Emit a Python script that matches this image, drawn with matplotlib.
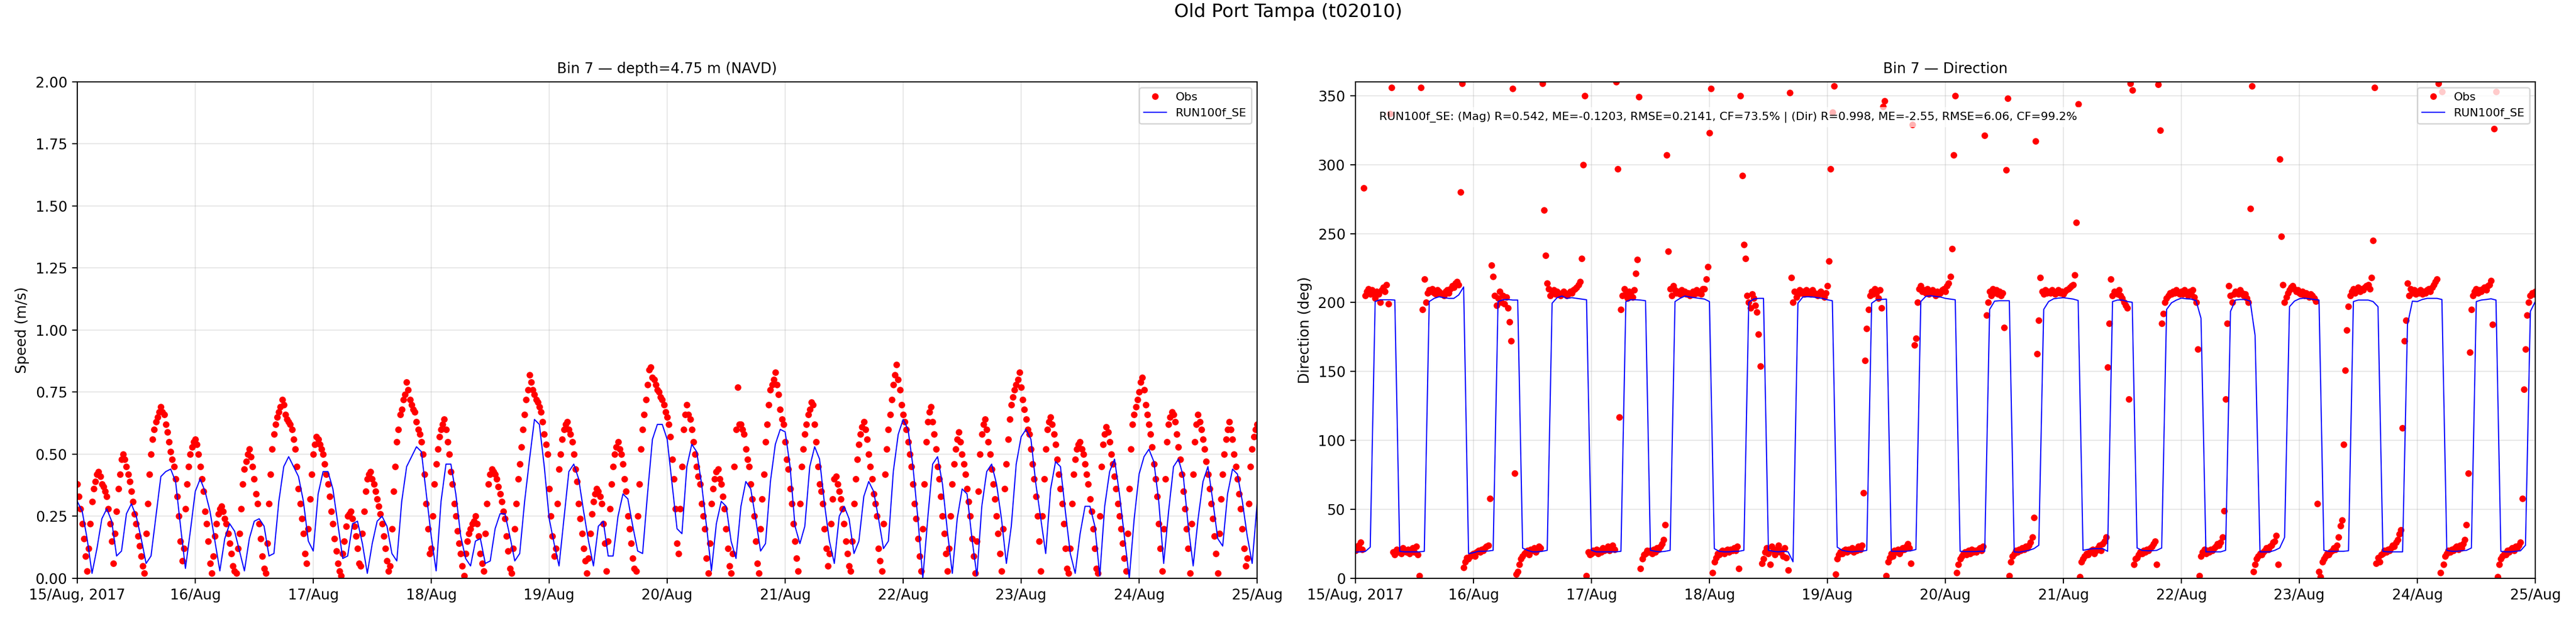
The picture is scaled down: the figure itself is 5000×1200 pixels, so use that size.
import pandas as pd
import matplotlib
matplotlib.use("Agg")
import matplotlib.pyplot as plt

# ---------------- data ----------------
start_time = "2017-08-15 00:00"
end_time = "2017-08-25 00:00"

# observed speed (m/s), every 20 minutes
obs_speed = [
    0.38, 0.33, 0.28, 0.22, 0.16, 0.09, 0.03, 0.12, 0.22, 0.31, 0.36, 0.39,
    0.42, 0.43, 0.41, 0.38, 0.37, 0.35, 0.33, 0.28, 0.22, 0.15, 0.06, 0.18,
    0.27, 0.36, 0.42, 0.48, 0.50, 0.48, 0.45, 0.42, 0.39, 0.35, 0.31, 0.26,
    0.22, 0.17, 0.13, 0.09, 0.05, 0.02, 0.18, 0.30, 0.42, 0.50, 0.56, 0.60,
    0.63, 0.65, 0.67, 0.69, 0.67, 0.66, 0.62, 0.59, 0.55, 0.51, 0.48, 0.45,
    0.40, 0.33, 0.25, 0.15, 0.07, 0.12, 0.28, 0.38, 0.45, 0.50, 0.53, 0.55,
    0.56, 0.54, 0.50, 0.45, 0.40, 0.35, 0.27, 0.22, 0.15, 0.06, 0.02, 0.09,
    0.17, 0.22, 0.26, 0.28, 0.29, 0.27, 0.24, 0.22, 0.18, 0.14, 0.10, 0.05,
    0.03, 0.02, 0.12, 0.18, 0.28, 0.38, 0.44, 0.47, 0.50, 0.52, 0.49, 0.45,
    0.40, 0.34, 0.30, 0.22, 0.16, 0.09, 0.04, 0.02, 0.14, 0.30, 0.42, 0.52,
    0.58, 0.62, 0.65, 0.67, 0.69, 0.72, 0.70, 0.66, 0.64, 0.63, 0.62, 0.60,
    0.56, 0.52, 0.45, 0.36, 0.30, 0.24, 0.18, 0.10, 0.06, 0.20, 0.32, 0.42,
    0.50, 0.54, 0.57, 0.56, 0.54, 0.52, 0.50, 0.46, 0.42, 0.38, 0.33, 0.27,
    0.22, 0.16, 0.11, 0.06, 0.03, 0.01, 0.10, 0.15, 0.21, 0.25, 0.26, 0.27,
    0.24, 0.21, 0.17, 0.12, 0.06, 0.05, 0.18, 0.27, 0.35, 0.40, 0.42, 0.43,
    0.40, 0.38, 0.35, 0.32, 0.29, 0.26, 0.22, 0.17, 0.12, 0.07, 0.03, 0.05,
    0.20, 0.35, 0.45, 0.55, 0.60, 0.66, 0.68, 0.72, 0.74, 0.79, 0.76, 0.72,
    0.70, 0.68, 0.67, 0.63, 0.60, 0.58, 0.55, 0.50, 0.42, 0.30, 0.20, 0.10,
    0.12, 0.25, 0.38, 0.46, 0.52, 0.57, 0.60, 0.62, 0.64, 0.60, 0.55, 0.50,
    0.43, 0.38, 0.30, 0.25, 0.19, 0.14, 0.10, 0.05, 0.01, 0.10, 0.15, 0.18,
    0.20, 0.22, 0.23, 0.25, 0.22, 0.17, 0.10, 0.06, 0.03, 0.18, 0.30, 0.38,
    0.42, 0.44, 0.43, 0.42, 0.40, 0.37, 0.34, 0.31, 0.27, 0.24, 0.17, 0.11,
    0.04, 0.02, 0.12, 0.20, 0.30, 0.40, 0.46, 0.53, 0.60, 0.66, 0.72, 0.76,
    0.82, 0.79, 0.76, 0.74, 0.72, 0.71, 0.69, 0.67, 0.63, 0.58, 0.54, 0.50,
    0.36, 0.25, 0.17, 0.09, 0.12, 0.30, 0.44, 0.50, 0.56, 0.60, 0.62, 0.63,
    0.60, 0.58, 0.55, 0.50, 0.44, 0.39, 0.30, 0.24, 0.18, 0.12, 0.07, 0.02,
    0.08, 0.18, 0.26, 0.31, 0.34, 0.36, 0.35, 0.33, 0.30, 0.22, 0.14, 0.03,
    0.15, 0.28, 0.38, 0.45, 0.50, 0.53, 0.55, 0.52, 0.50, 0.46, 0.40, 0.35,
    0.25, 0.20, 0.14, 0.08, 0.04, 0.03, 0.25, 0.38, 0.52, 0.60, 0.66, 0.72,
    0.78, 0.84, 0.85, 0.81, 0.80, 0.78, 0.76, 0.75, 0.73, 0.72, 0.70, 0.67,
    0.65, 0.62, 0.57, 0.48, 0.40, 0.28, 0.14, 0.10, 0.28, 0.45, 0.60, 0.66,
    0.70, 0.66, 0.64, 0.60, 0.55, 0.50, 0.45, 0.41, 0.38, 0.30, 0.25, 0.20,
    0.08, 0.02, 0.14, 0.30, 0.36, 0.40, 0.43, 0.44, 0.40, 0.38, 0.33, 0.28,
    0.20, 0.12, 0.05, 0.02, 0.10, 0.45, 0.60, 0.77, 0.62, 0.62, 0.60, 0.58,
    0.52, 0.48, 0.45, 0.38, 0.32, 0.25, 0.15, 0.06, 0.02, 0.20, 0.32, 0.42,
    0.55, 0.62, 0.70, 0.76, 0.78, 0.80, 0.83, 0.78, 0.74, 0.68, 0.64, 0.62,
    0.55, 0.48, 0.44, 0.36, 0.30, 0.22, 0.15, 0.08, 0.03, 0.30, 0.45, 0.52,
    0.58, 0.62, 0.66, 0.68, 0.71, 0.70, 0.62, 0.55, 0.45, 0.38, 0.35, 0.30,
    0.20, 0.12, 0.05, 0.10, 0.22, 0.32, 0.40, 0.41, 0.38, 0.35, 0.32, 0.28,
    0.22, 0.15, 0.10, 0.05, 0.03, 0.15, 0.30, 0.40, 0.48, 0.54, 0.58, 0.61,
    0.63, 0.60, 0.56, 0.50, 0.45, 0.40, 0.34, 0.30, 0.25, 0.12, 0.07, 0.03,
    0.22, 0.42, 0.52, 0.60, 0.66, 0.72, 0.78, 0.82, 0.86, 0.80, 0.76, 0.70,
    0.66, 0.63, 0.60, 0.55, 0.50, 0.45, 0.38, 0.30, 0.24, 0.16, 0.09, 0.03,
    0.20, 0.38, 0.55, 0.63, 0.67, 0.69, 0.63, 0.58, 0.52, 0.45, 0.40, 0.33,
    0.25, 0.18, 0.10, 0.03, 0.12, 0.25, 0.38, 0.46, 0.52, 0.56, 0.59, 0.55,
    0.50, 0.46, 0.42, 0.36, 0.31, 0.25, 0.16, 0.09, 0.02, 0.15, 0.35, 0.50,
    0.58, 0.62, 0.64, 0.60, 0.55, 0.50, 0.44, 0.38, 0.32, 0.25, 0.18, 0.10,
    0.03, 0.20, 0.36, 0.46, 0.56, 0.64, 0.70, 0.73, 0.76, 0.78, 0.80, 0.83,
    0.77, 0.72, 0.68, 0.64, 0.60, 0.58, 0.52, 0.46, 0.40, 0.33, 0.25, 0.15,
    0.03, 0.25, 0.40, 0.52, 0.60, 0.63, 0.65, 0.62, 0.58, 0.54, 0.48, 0.42,
    0.36, 0.30, 0.22, 0.12, 0.04, 0.02, 0.12, 0.30, 0.42, 0.48, 0.52, 0.54,
    0.55, 0.52, 0.50, 0.46, 0.42, 0.38, 0.32, 0.27, 0.20, 0.12, 0.04, 0.02,
    0.25, 0.45, 0.54, 0.58, 0.61, 0.59, 0.55, 0.50, 0.46, 0.41, 0.36, 0.30,
    0.25, 0.20, 0.14, 0.08, 0.03, 0.18, 0.36, 0.52, 0.62, 0.66, 0.69, 0.72,
    0.75, 0.79, 0.81, 0.76, 0.70, 0.66, 0.62, 0.58, 0.53, 0.46, 0.40, 0.33,
    0.22, 0.12, 0.03, 0.20, 0.40, 0.55, 0.62, 0.65, 0.67, 0.66, 0.63, 0.58,
    0.53, 0.48, 0.42, 0.35, 0.28, 0.20, 0.12, 0.02, 0.22, 0.42, 0.55, 0.62,
    0.66, 0.63, 0.60, 0.56, 0.52, 0.47, 0.42, 0.36, 0.30, 0.24, 0.17, 0.10,
    0.02, 0.18, 0.32, 0.42, 0.50, 0.56, 0.60, 0.63, 0.60, 0.56, 0.50, 0.45,
    0.40, 0.34, 0.28, 0.20, 0.12, 0.05, 0.08, 0.30, 0.45, 0.52, 0.57, 0.60,
    0.62,
]

# observed direction (deg), every 20 minutes
obs_dir = [
    20, 22, 24, 26, 21, 283, 205, 208, 210, 206, 209, 207,
    203, 208, 206, 200, 209, 211, 208, 213, 199, 337, 356, 19,
    17, 21, 19, 20, 18, 22, 20, 19, 21, 18, 20, 22,
    19, 23, 17, 2, 356, 195, 217, 200, 207, 209, 208, 210,
    207, 206, 209, 208, 207, 206, 205, 208, 209, 207, 210, 212,
    211, 214, 215, 213, 280, 359, 8, 12, 15, 14, 16, 17,
    18, 16, 19, 20, 19, 21, 20, 22, 23, 24, 58, 227,
    219, 205, 198, 203, 208, 200, 205, 199, 204, 196, 186, 172,
    355, 76, 3, 5, 10, 14, 16, 18, 19, 20, 17, 21,
    20, 22, 19, 21, 23, 22, 359, 267, 234, 214, 210, 205,
    207, 209, 206, 208, 207, 205, 206, 208, 207, 205, 206, 208,
    207, 209, 210, 211, 213, 215, 232, 300, 350, 2, 19, 17,
    18, 20, 19, 21, 18, 20, 19, 22, 20, 21, 23, 20,
    22, 24, 21, 360, 297, 117, 195, 205, 210, 207, 203, 208,
    206, 204, 209, 221, 231, 349, 7, 14, 17, 18, 20, 19,
    20, 18, 21, 19, 22, 21, 23, 25, 28, 39, 307, 237,
    210, 205, 212, 209, 207, 208, 206, 209, 207, 208, 206, 207,
    205, 207, 208, 206, 209, 207, 208, 206, 210, 210, 217, 226,
    323, 355, 4, 12, 15, 18, 17, 19, 20, 18, 20, 21,
    19, 21, 20, 22, 20, 23, 7, 350, 292, 242, 232, 205,
    200, 196, 206, 203, 198, 193, 177, 154, 11, 14, 19, 22,
    18, 10, 23, 20, 17, 21, 24, 19, 20, 16, 22, 15,
    6, 352, 218, 200, 208, 204, 206, 209, 207, 208, 206, 209,
    207, 208, 206, 209, 207, 206, 205, 207, 208, 206, 204, 207,
    212, 230, 297, 338, 357, 3, 14, 17, 19, 18, 20, 21,
    19, 21, 20, 22, 19, 21, 20, 23, 21, 24, 62, 158,
    181, 195, 205, 208, 206, 210, 207, 203, 209, 196, 342, 346,
    2, 12, 15, 18, 16, 20, 19, 21, 18, 20, 22, 21,
    23, 25, 22, 11, 329, 169, 174, 200, 210, 212, 208, 209,
    207, 210, 206, 208, 209, 207, 205, 208, 206, 207, 209, 210,
    208, 212, 214, 219, 239, 307, 350, 4, 10, 14, 16, 18,
    19, 17, 20, 18, 21, 19, 20, 19, 21, 22, 20, 23,
    321, 191, 200, 208, 205, 210, 207, 209, 206, 208, 205, 207,
    182, 296, 348, 2, 12, 16, 18, 20, 19, 21, 20, 22,
    21, 23, 22, 24, 26, 30, 44, 317, 163, 187, 218, 208,
    206, 209, 207, 208, 207, 209, 208, 206, 207, 209, 207, 208,
    206, 208, 209, 210, 211, 212, 213, 220, 258, 344, 1, 12,
    14, 16, 18, 17, 19, 20, 21, 18, 20, 22, 24, 20,
    25, 27, 30, 153, 185, 217, 205, 208, 207, 206, 209, 205,
    203, 200, 198, 196, 130, 359, 354, 10, 14, 15, 17, 19,
    18, 20, 19, 21, 20, 22, 23, 25, 27, 10, 358, 325,
    185, 192, 200, 203, 205, 207, 206, 208, 207, 209, 207, 206,
    208, 206, 209, 207, 205, 208, 206, 209, 204, 200, 166, 2,
    16, 19, 21, 18, 20, 19, 21, 20, 22, 23, 25, 24,
    26, 30, 49, 130, 185, 212, 205, 200, 206, 208, 207, 206,
    209, 207, 205, 206, 203, 200, 268, 357, 5, 10, 14, 16,
    18, 17, 19, 20, 22, 21, 23, 24, 26, 27, 31, 10,
    304, 248, 213, 200, 204, 207, 209, 211, 212, 210, 208, 209,
    207, 206, 208, 205, 207, 206, 204, 206, 205, 203, 201, 54,
    5, 1, 12, 14, 16, 18, 17, 19, 20, 22, 21, 24,
    30, 38, 42, 97, 151, 180, 197, 205, 208, 210, 207, 209,
    211, 208, 210, 209, 211, 212, 213, 210, 218, 245, 356, 11,
    15, 12, 17, 18, 20, 19, 21, 20, 22, 24, 23, 26,
    28, 32, 35, 109, 172, 187, 214, 205, 210, 207, 209, 206,
    208, 207, 209, 206, 208, 207, 209, 210, 208, 211, 213, 215,
    217, 359, 4, 353, 10, 16, 18, 20, 19, 21, 20, 22,
    23, 21, 24, 22, 25, 28, 39, 76, 164, 195, 205, 208,
    210, 207, 209, 208, 210, 211, 209, 212, 213, 216, 184, 326,
    353, 1, 10, 14, 16, 18, 17, 20, 19, 21, 22, 20,
    23, 22, 24, 26, 58, 137, 166, 191, 200, 205, 207, 206,
    208,
]

# model RUN100f_SE speed (m/s), hourly
model_speed = [
    0.31, 0.27, 0.16, 0.02, 0.12, 0.24, 0.28, 0.23, 0.09, 0.11,
    0.26, 0.30, 0.25, 0.16, 0.06, 0.09, 0.25, 0.41, 0.43, 0.44,
    0.39, 0.21, 0.04, 0.19, 0.35, 0.40, 0.35, 0.27, 0.15, 0.03,
    0.16, 0.22, 0.19, 0.11, 0.03, 0.16, 0.23, 0.24, 0.21, 0.09,
    0.10, 0.31, 0.45, 0.49, 0.45, 0.41, 0.31, 0.15, 0.11, 0.34,
    0.43, 0.43, 0.36, 0.22, 0.08, 0.09, 0.22, 0.23, 0.14, 0.02,
    0.14, 0.23, 0.25, 0.21, 0.10, 0.07, 0.31, 0.45, 0.49, 0.53,
    0.51, 0.34, 0.17, 0.03, 0.31, 0.46, 0.46, 0.34, 0.17, 0.08,
    0.05, 0.15, 0.16, 0.06, 0.07, 0.20, 0.26, 0.26, 0.17, 0.07,
    0.10, 0.31, 0.48, 0.64, 0.62, 0.45, 0.24, 0.14, 0.05, 0.24,
    0.43, 0.46, 0.40, 0.27, 0.15, 0.05, 0.21, 0.23, 0.09, 0.09,
    0.25, 0.34, 0.32, 0.21, 0.11, 0.10, 0.34, 0.56, 0.62, 0.62,
    0.56, 0.38, 0.20, 0.18, 0.45, 0.54, 0.51, 0.38, 0.21, 0.03,
    0.22, 0.31, 0.29, 0.15, 0.08, 0.29, 0.39, 0.36, 0.24, 0.11,
    0.14, 0.39, 0.54, 0.60, 0.59, 0.45, 0.21, 0.14, 0.21, 0.45,
    0.53, 0.48, 0.30, 0.15, 0.06, 0.25, 0.29, 0.24, 0.10, 0.15,
    0.33, 0.39, 0.35, 0.24, 0.12, 0.15, 0.43, 0.58, 0.64, 0.60,
    0.45, 0.24, 0.00, 0.24, 0.46, 0.49, 0.38, 0.19, 0.02, 0.24,
    0.36, 0.34, 0.16, 0.01, 0.29, 0.43, 0.46, 0.38, 0.24, 0.06,
    0.21, 0.46, 0.57, 0.60, 0.56, 0.38, 0.24, 0.10, 0.36, 0.47,
    0.45, 0.27, 0.10, 0.02, 0.18, 0.29, 0.29, 0.21, 0.01, 0.29,
    0.43, 0.48, 0.34, 0.17, 0.00, 0.24, 0.42, 0.49, 0.52, 0.47,
    0.31, 0.06, 0.27, 0.45, 0.48, 0.41, 0.21, 0.05, 0.24, 0.39,
    0.45, 0.31, 0.16, 0.13, 0.34, 0.44, 0.42, 0.31, 0.17, 0.06,
    0.30,
]

# model RUN100f_SE direction (deg), hourly
model_dir = [
    19.0, 19.2, 19.5, 22.6, 200.7, 202.0, 202.0, 202.0, 201.8, 19.6,
    19.2, 19.2, 19.2, 19.2, 19.6, 200.7, 203.0, 204.2, 203.5, 203.0,
    203.0, 205.5, 211.3, 17.9, 18.6, 19.6, 19.6, 19.8, 20.3, 200.7,
    202.0, 202.2, 201.8, 201.8, 21.9, 20.3, 19.2, 19.2, 19.6, 20.3,
    199.5, 203.5, 204.7, 203.0, 203.5, 203.0, 202.5, 202.0, 20.3, 19.2,
    19.2, 19.2, 19.2, 19.2, 19.6, 200.7, 202.0, 202.0, 201.8, 201.3,
    20.3, 19.6, 19.2, 19.6, 20.3, 200.7, 203.0, 204.7, 204.0, 203.5,
    203.0, 202.5, 200.7, 21.5, 19.6, 19.2, 19.2, 19.6, 19.6, 20.3,
    200.2, 202.5, 203.0, 203.0, 20.3, 19.6, 19.2, 19.6, 19.2, 12.0,
    199.5, 204.0, 204.2, 204.0, 203.5, 203.0, 202.0, 201.3, 22.6, 20.3,
    19.6, 19.2, 19.6, 19.6, 20.3, 199.5, 202.0, 202.2, 202.5, 19.6,
    19.6, 19.6, 19.6, 20.0, 20.9, 200.7, 204.4, 204.9, 204.4, 204.0,
    203.0, 202.5, 202.0, 19.6, 19.4, 19.4, 19.4, 19.6, 19.6, 195.0,
    201.0, 201.3, 201.3, 201.3, 19.2, 18.9, 19.6, 20.3, 21.5, 24.0,
    195.0, 200.7, 202.7, 203.2, 203.5, 203.0, 202.5, 201.5, 20.3, 21.0,
    21.5, 21.5, 21.5, 19.6, 200.7, 201.8, 201.8, 200.7, 200.2, 22.0,
    20.3, 20.0, 20.0, 20.3, 22.0, 195.0, 199.8, 201.8, 203.2, 202.7,
    202.5, 201.3, 188.5, 19.2, 19.2, 19.2, 19.2, 20.3, 193.6, 201.8,
    202.2, 202.2, 201.0, 176.0, 19.2, 19.2, 19.2, 20.3, 22.0, 29.7,
    197.0, 201.0, 202.7, 203.2, 202.7, 202.2, 201.8, 20.3, 19.6, 19.6,
    19.6, 19.6, 20.0, 200.7, 201.8, 201.8, 201.8, 200.7, 197.0, 19.6,
    19.2, 19.2, 19.2, 19.2, 184.0, 201.0, 200.7, 202.2, 203.0, 203.0,
    203.0, 202.2, 20.3, 19.6, 19.6, 20.0, 20.3, 22.0, 200.7, 201.8,
    202.2, 202.7, 201.8, 19.6, 19.2, 19.2, 19.6, 20.0, 24.0, 193.6,
    200.7,
]

xtick_labels = ["15/Aug, 2017", "16/Aug", "17/Aug", "18/Aug", "19/Aug", "20/Aug",
                "21/Aug", "22/Aug", "23/Aug", "24/Aug", "25/Aug"]
speed_yticks = [0.0, 0.25, 0.5, 0.75, 1.0, 1.25, 1.5, 1.75, 2.0]
dir_yticks = [0, 50, 100, 150, 200, 250, 300, 350]

suptitle = "Old Port Tampa (t02010)"
speed_title = "Bin 7 \u2014 depth=4.75 m (NAVD)"
dir_title = "Bin 7 \u2014 Direction"
model_name = "RUN100f_SE"
stats_text = ("RUN100f_SE: (Mag) R=0.542, ME=-0.1203, RMSE=0.2141, CF=73.5% | "
              "(Dir) R=0.998, ME=-2.55, RMSE=6.06, CF=99.2%")

# ---------------- plotting ----------------
obs_t = pd.date_range(start_time, periods=len(obs_speed), freq="20min")
obs_t_dir = pd.date_range(start_time, periods=len(obs_dir), freq="20min")
mod_t = pd.date_range(start_time, periods=len(model_speed), freq="h")
mod_t_dir = pd.date_range(start_time, periods=len(model_dir), freq="h")
tick_t = pd.date_range(start_time, end_time, freq="D")

plt.rcParams["font.family"] = ["DejaVu Sans"]
fig = plt.figure(figsize=(25, 6), dpi=200)
ax1 = fig.add_axes([0.03, 0.0642, 0.458, 0.8033])
ax2 = fig.add_axes([0.5262, 0.0642, 0.458, 0.8033])

ax1.plot(obs_t, obs_speed, linestyle="none", marker="o", ms=3.6, color="red", label="Obs")
ax1.plot(mod_t, model_speed, color="blue", lw=0.8, label=model_name)
ax1.set_ylim(0, 2)
ax1.set_yticks(speed_yticks)
ax1.set_ylabel("Speed (m/s)", fontsize=10)
ax1.set_title(speed_title, fontsize=10)

ax2.plot(obs_t_dir, obs_dir, linestyle="none", marker="o", ms=3.6, color="red", label="Obs")
ax2.plot(mod_t_dir, model_dir, color="blue", lw=0.8, label=model_name)
ax2.set_ylim(0, 360)
ax2.set_yticks(dir_yticks)
ax2.set_ylabel("Direction (deg)", fontsize=10)
ax2.set_title(dir_title, fontsize=10)
ax2.text(0.02, 0.94, stats_text, transform=ax2.transAxes, fontsize=8,
         ha="left", va="top",
         bbox=dict(boxstyle="square,pad=0.4", facecolor="white", alpha=0.7, edgecolor="none"))

for ax in (ax1, ax2):
    ax.set_xlim(tick_t[0], tick_t[-1])
    ax.set_xticks(tick_t)
    ax.set_xticklabels(xtick_labels)
    ax.tick_params(labelsize=10)
    ax.grid(True, alpha=0.3)
    ax.legend(loc="upper right", fontsize=8)

fig.suptitle(suptitle, fontsize=13, y=0.995, va="top")
fig.savefig("out.png", dpi=200)
